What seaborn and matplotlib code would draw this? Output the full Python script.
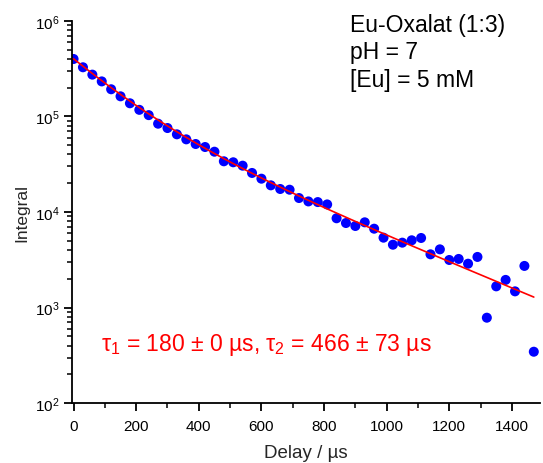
import numpy as np
import pandas as pd
import matplotlib
matplotlib.use("Agg")
import matplotlib.pyplot as plt
import seaborn as sns
from matplotlib.ticker import LogLocator, MultipleLocator, NullFormatter

# ---- data ----
delay_us = [0, 30, 60, 90, 120, 150, 180, 210, 240, 270,
            300, 330, 360, 390, 420, 450, 480, 510, 540, 570,
            600, 630, 660, 690, 720, 750, 780, 810, 840, 870,
            900, 930, 960, 990, 1020, 1050, 1080, 1110, 1140, 1170,
            1200, 1230, 1260, 1290, 1320, 1350, 1380, 1410, 1440, 1470]
integral = [3.98e5, 3.26e5, 2.73e5, 2.32e5, 1.92e5, 1.62e5, 1.37e5, 1.17e5, 1.03e5, 8.38e4,
            7.55e4, 6.49e4, 5.75e4, 5.14e4, 4.78e4, 4.27e4, 3.39e4, 3.31e4, 3.05e4, 2.56e4,
            2.23e4, 1.90e4, 1.74e4, 1.71e4, 1.40e4, 1.29e4, 1.27e4, 1.20e4, 8.6e3, 7.67e3,
            7.14e3, 7.8e3, 6.69e3, 5.39e3, 4.55e3, 4.78e3, 5.06e3, 5.35e3, 3.61e3, 4.07e3,
            3.15e3, 3.23e3, 2.88e3, 3.39e3, 785, 1.67e3, 1.95e3, 1.48e3, 2.73e3, 346]

# parameters of the drawn (red) biexponential fit curve
curve_amp = [2.73e5, 1.27e5]
curve_tau = [135.0, 320.0]

info_lines = ["Eu-Oxalat (1:3)", "pH = 7", "[Eu] = 5 mM"]
fit_label = r"$\tau_1$ = 180 $\pm$ 0 µs, $\tau_2$ = 466 $\pm$ 73 µs"

df = pd.DataFrame({"delay": delay_us, "integral": integral})
t_fit = np.linspace(0, delay_us[-1], 300)
fit_vals = sum(a * np.exp(-t_fit / tau) for a, tau in zip(curve_amp, curve_tau))
fit_df = pd.DataFrame({"delay": t_fit, "fit": fit_vals})

sns.set_style("ticks")
plt.rcParams["font.family"] = ["Liberation Sans", "DejaVu Sans"]
plt.rcParams["mathtext.fontset"] = "custom"
plt.rcParams["mathtext.rm"] = "Liberation Sans"
plt.rcParams["mathtext.it"] = "Liberation Sans"
plt.rcParams["mathtext.sf"] = "Liberation Sans"
plt.rcParams["mathtext.default"] = "regular"

fig = plt.figure(figsize=(5.43, 4.64), dpi=100)
ax = fig.add_axes([0.1326, 0.1287, 0.862, 0.8245])

sns.scatterplot(data=df, x="delay", y="integral", ax=ax, color="#0000ff",
                s=52, edgecolor="none", linewidth=0, zorder=2)
sns.lineplot(data=fit_df, x="delay", y="fit", ax=ax, color="#ff0000",
             linewidth=1.2, zorder=3)

ax.set_yscale("log")
ax.set_ylim(1e2, 1e6)
ax.set_xlim(-5, 1490)

ax.xaxis.set_major_locator(MultipleLocator(200))
ax.xaxis.set_minor_locator(MultipleLocator(100))
ax.yaxis.set_major_locator(LogLocator(base=10, numticks=10))
ax.yaxis.set_minor_locator(LogLocator(base=10, subs=np.arange(2, 10), numticks=20))
ax.yaxis.set_minor_formatter(NullFormatter())

for side in ["top", "right"]:
    ax.spines[side].set_visible(False)
for side in ["left", "bottom"]:
    ax.spines[side].set_linewidth(1.3)
    ax.spines[side].set_color("black")

ax.tick_params(axis="both", which="major", direction="out", length=6, width=1.3,
               labelsize=11, colors="black")
ax.tick_params(axis="x", which="major", pad=5)
ax.tick_params(axis="y", which="major", pad=3)
ax.tick_params(axis="both", which="minor", direction="out", length=3.5, width=1.1,
               colors="black")

ax.set_xlabel("Delay / µs", fontsize=13.5, labelpad=8)
ax.set_ylabel("Integral", fontsize=12.5, labelpad=4)

for i, line in enumerate(info_lines):
    ax.text(0.594, 0.974 - i * 0.0725, line, transform=ax.transAxes,
            fontsize=16.5, ha="left", va="baseline", color="black")

ax.text(0.061, 0.155, fit_label, transform=ax.transAxes, fontsize=16.5,
        ha="left", va="center", color="#ff0000")

fig.savefig("out.png", dpi=100)
